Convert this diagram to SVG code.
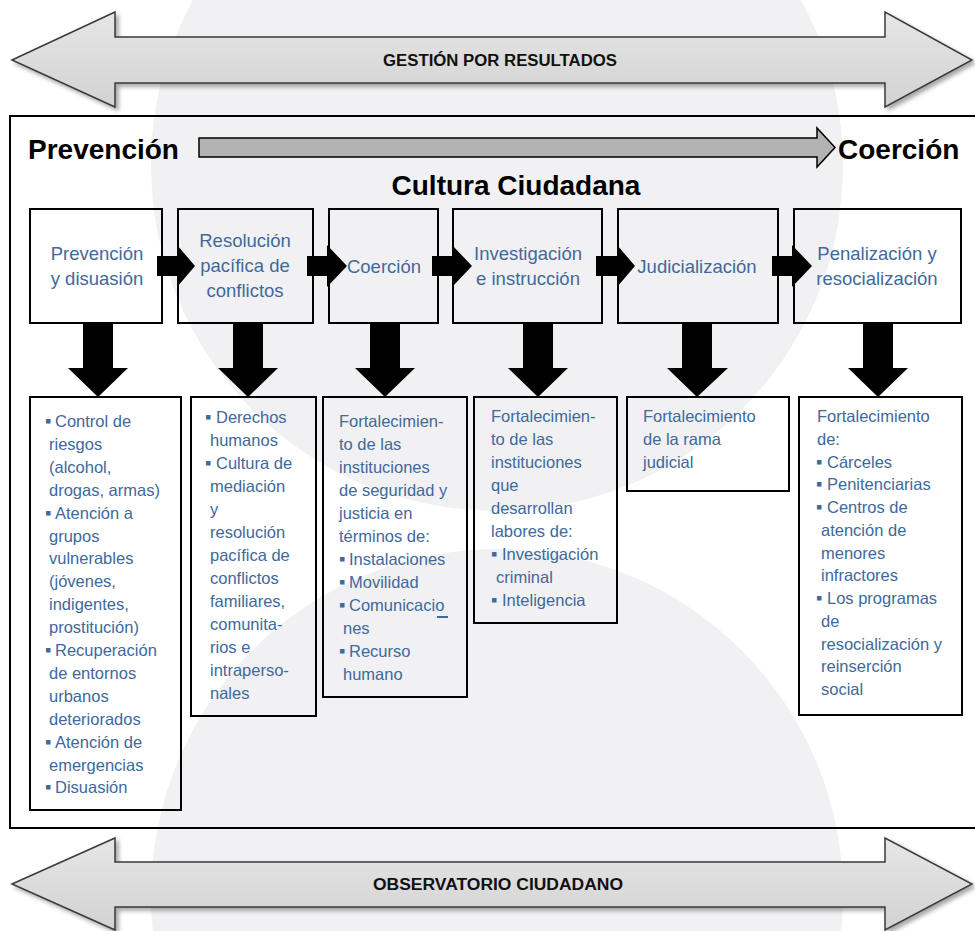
<svg xmlns="http://www.w3.org/2000/svg" width="975" height="931" viewBox="0 0 975 931">
<style>
.bg{fill:#f1f1f3}
.big{fill:url(#ag);stroke:#3a3a3a;stroke-width:1.5;filter:url(#sh)}
.bigt{font-family:"Liberation Sans",Arial,sans-serif;font-weight:bold;font-size:16px;fill:#111}
.hd{font-family:"Liberation Sans",Arial,sans-serif;font-weight:bold;font-size:28px;fill:#000}
.box{fill:none;stroke:#000;stroke-width:2}
.blk{fill:#000}
.t1{font-family:"Liberation Sans",Arial,sans-serif;font-size:18.5px;fill:#40699c;text-anchor:middle}
.t2{font-family:"Liberation Sans",Arial,sans-serif;font-size:16.5px;fill:#40699c}
.b{font-size:18px}
</style>
<defs>
<linearGradient id="ag" x1="0" y1="0" x2="0" y2="1">
<stop offset="0" stop-color="#e6e6e6"/>
<stop offset="1" stop-color="#d2d2d2"/>
</linearGradient>
<filter id="sh" x="-5%" y="-20%" width="110%" height="150%">
<feDropShadow dx="3" dy="3" stdDeviation="2" flood-color="#000" flood-opacity="0.35"/>
</filter>
</defs>
<rect width="975" height="931" fill="#fff"/>
<g id="background">
<circle class="bg" cx="497" cy="165" r="346"/>
<circle class="bg" cx="497" cy="895" r="346"/>
</g>
<g id="gestion">
<polygon class="big" points="12,60 115,12 115,37 885,37 885,12 972,60 885,107 885,83 115,83 115,107"/>
<text class="bigt" x="383" y="66" textLength="234" lengthAdjust="spacingAndGlyphs">GESTIÓN POR RESULTADOS</text>
</g>
<g id="observatorio">
<polygon class="big" points="12,884 115,838 115,862 885,862 885,838 972,884 885,930 885,907 115,907 115,930"/>
<text class="bigt" x="373" y="890" textLength="250" lengthAdjust="spacingAndGlyphs">OBSERVATORIO CIUDADANO</text>
</g>
<g id="frame">
<rect x="10" y="116" width="975" height="712" fill="none" stroke="#000" stroke-width="2"/>
</g>
<g id="escala">
<text class="hd" x="28" y="159">Prevención</text>
<polygon points="199,138 817,138 817,128 835,147.5 817,167 817,157 199,157" fill="#b3b3b3" stroke="#000" stroke-width="1.5"/>
<text class="hd" x="838" y="159">Coerción</text>
<text class="hd" x="516" y="195" text-anchor="middle">Cultura Ciudadana</text>
</g>
<g id="connectors">
<polygon class="blk" points="157,256 177,256 177,245 195,266 177,287 177,276 157,276"/>
<polygon class="blk" points="307,256 327,256 327,245 347,266 327,287 327,276 307,276"/>
<polygon class="blk" points="432,256 452,256 452,245 472,266 452,287 452,276 432,276"/>
<polygon class="blk" points="596,256 617,256 617,245 635,266 617,287 617,276 596,276"/>
<polygon class="blk" points="772,256 792,256 792,245 812,266 792,287 792,276 772,276"/>
<polygon class="blk" points="83,323 113,323 113,368 128,368 98,397 68,368 83,368"/>
<polygon class="blk" points="233,323 263,323 263,368 278,368 248,397 218,368 233,368"/>
<polygon class="blk" points="370,323 400,323 400,368 415,368 385,397 355,368 370,368"/>
<polygon class="blk" points="523,323 553,323 553,368 568,368 538,397 508,368 523,368"/>
<polygon class="blk" points="682,323 712,323 712,368 728,368 697,397 667,368 682,368"/>
<polygon class="blk" points="863,323 893,323 893,368 908,368 878,397 848,368 863,368"/>
</g>
<g id="n1">
<rect class="box" x="30" y="209" width="132" height="114"/>
<text class="t1"><tspan x="97" y="260">Prevención</tspan><tspan x="97" y="285">y disuasión</tspan></text>
</g>
<g id="n2">
<rect class="box" x="178" y="209" width="135" height="114"/>
<text class="t1"><tspan x="245" y="247">Resolución</tspan><tspan x="245" y="272">pacífica de</tspan><tspan x="245" y="297">conflictos</tspan></text>
</g>
<g id="n3">
<rect class="box" x="329" y="209" width="109" height="114"/>
<text class="t1" x="384" y="273">Coerción</text>
</g>
<g id="n4">
<rect class="box" x="453" y="209" width="149" height="114"/>
<text class="t1"><tspan x="528" y="260">Investigación</tspan><tspan x="528" y="285">e instrucción</tspan></text>
</g>
<g id="n5">
<rect class="box" x="618" y="209" width="160" height="114"/>
<text class="t1" x="697" y="273">Judicialización</text>
</g>
<g id="n6">
<rect class="box" x="794" y="209" width="167" height="114"/>
<text class="t1"><tspan x="877" y="260">Penalización y</tspan><tspan x="877" y="285">resocialización</tspan></text>
</g>
<g id="d1">
<rect class="box" x="30" y="397" width="151" height="413"/>
<text class="t2">
<tspan class="b" x="45" y="427">▪</tspan><tspan x="55" y="427">Control de</tspan>
<tspan x="49" y="449.9">riesgos</tspan>
<tspan x="49" y="472.8">(alcohol,</tspan>
<tspan x="49" y="495.7">drogas, armas)</tspan>
<tspan class="b" x="45" y="518.6">▪</tspan><tspan x="55" y="518.6">Atención a</tspan>
<tspan x="49" y="541.5">grupos</tspan>
<tspan x="49" y="564.4">vulnerables</tspan>
<tspan x="49" y="587.3">(jóvenes,</tspan>
<tspan x="49" y="610.2">indigentes,</tspan>
<tspan x="49" y="633.1">prostitución)</tspan>
<tspan class="b" x="45" y="656">▪</tspan><tspan x="55" y="656">Recuperación</tspan>
<tspan x="49" y="678.9">de entornos</tspan>
<tspan x="49" y="701.8">urbanos</tspan>
<tspan x="49" y="724.7">deteriorados</tspan>
<tspan class="b" x="45" y="747.6">▪</tspan><tspan x="55" y="747.6">Atención de</tspan>
<tspan x="49" y="770.5">emergencias</tspan>
<tspan class="b" x="45" y="793.4">▪</tspan><tspan x="55" y="793.4">Disuasión</tspan>
</text>
</g>
<g id="d2">
<rect class="box" x="191" y="397" width="125" height="319"/>
<text class="t2">
<tspan class="b" x="205" y="423">▪</tspan><tspan x="216" y="423">Derechos</tspan>
<tspan x="210" y="446">humanos</tspan>
<tspan class="b" x="205" y="469">▪</tspan><tspan x="216" y="469">Cultura de</tspan>
<tspan x="210" y="492">mediación</tspan>
<tspan x="210" y="515">y</tspan>
<tspan x="210" y="538">resolución</tspan>
<tspan x="210" y="561">pacífica de</tspan>
<tspan x="210" y="584">conflictos</tspan>
<tspan x="210" y="607">familiares,</tspan>
<tspan x="210" y="630">comunita-</tspan>
<tspan x="210" y="653">rios e</tspan>
<tspan x="210" y="676">intraperso-</tspan>
<tspan x="210" y="699">nales</tspan>
</text>
</g>
<g id="d3">
<rect class="box" x="323" y="397" width="144" height="300"/>
<text class="t2">
<tspan x="339" y="427">Fortalecimien-</tspan>
<tspan x="339" y="450">to de las</tspan>
<tspan x="339" y="473">instituciones</tspan>
<tspan x="339" y="496">de seguridad y</tspan>
<tspan x="339" y="519">justicia en</tspan>
<tspan x="339" y="542">términos de:</tspan>
<tspan class="b" x="339" y="565">▪</tspan><tspan x="349" y="565">Instalaciones</tspan>
<tspan class="b" x="339" y="588">▪</tspan><tspan x="349" y="588">Movilidad</tspan>
<tspan class="b" x="339" y="611">▪</tspan><tspan x="349" y="611">Comunicacio</tspan>
<tspan x="343" y="634">nes</tspan>
<tspan class="b" x="339" y="657">▪</tspan><tspan x="349" y="657">Recurso</tspan>
<tspan x="343" y="680">humano</tspan>
</text>
<line x1="437" y1="617" x2="448" y2="617" stroke="#40699c" stroke-width="2"/>
</g>
<g id="d4">
<rect class="box" x="474" y="397" width="143" height="226"/>
<text class="t2">
<tspan x="491" y="422">Fortalecimien-</tspan>
<tspan x="491" y="445">to de las</tspan>
<tspan x="491" y="468">instituciones</tspan>
<tspan x="491" y="491">que</tspan>
<tspan x="491" y="514">desarrollan</tspan>
<tspan x="491" y="537">labores de:</tspan>
<tspan class="b" x="491" y="560">▪</tspan><tspan x="502" y="560">Investigación</tspan>
<tspan x="496" y="583">criminal</tspan>
<tspan class="b" x="491" y="606">▪</tspan><tspan x="502" y="606">Inteligencia</tspan>
</text>
</g>
<g id="d5">
<rect class="box" x="627" y="397" width="162" height="94"/>
<text class="t2">
<tspan x="643" y="422">Fortalecimiento</tspan>
<tspan x="643" y="445">de la rama</tspan>
<tspan x="643" y="468">judicial</tspan>
</text>
</g>
<g id="d6">
<rect class="box" x="799" y="397" width="163" height="318"/>
<text class="t2">
<tspan x="817" y="422">Fortalecimiento</tspan>
<tspan x="817" y="445">de:</tspan>
<tspan class="b" x="816" y="467.5">▪</tspan><tspan x="827" y="467.5">Cárceles</tspan>
<tspan class="b" x="816" y="490">▪</tspan><tspan x="827" y="490">Penitenciarias</tspan>
<tspan class="b" x="816" y="513">▪</tspan><tspan x="827" y="513">Centros de</tspan>
<tspan x="821" y="536">atención de</tspan>
<tspan x="821" y="558.5">menores</tspan>
<tspan x="821" y="581">infractores</tspan>
<tspan class="b" x="816" y="604">▪</tspan><tspan x="827" y="604">Los programas</tspan>
<tspan x="821" y="627">de</tspan>
<tspan x="821" y="649.5">resocialización y</tspan>
<tspan x="821" y="672">reinserción</tspan>
<tspan x="821" y="695">social</tspan>
</text>
</g>
</svg>
